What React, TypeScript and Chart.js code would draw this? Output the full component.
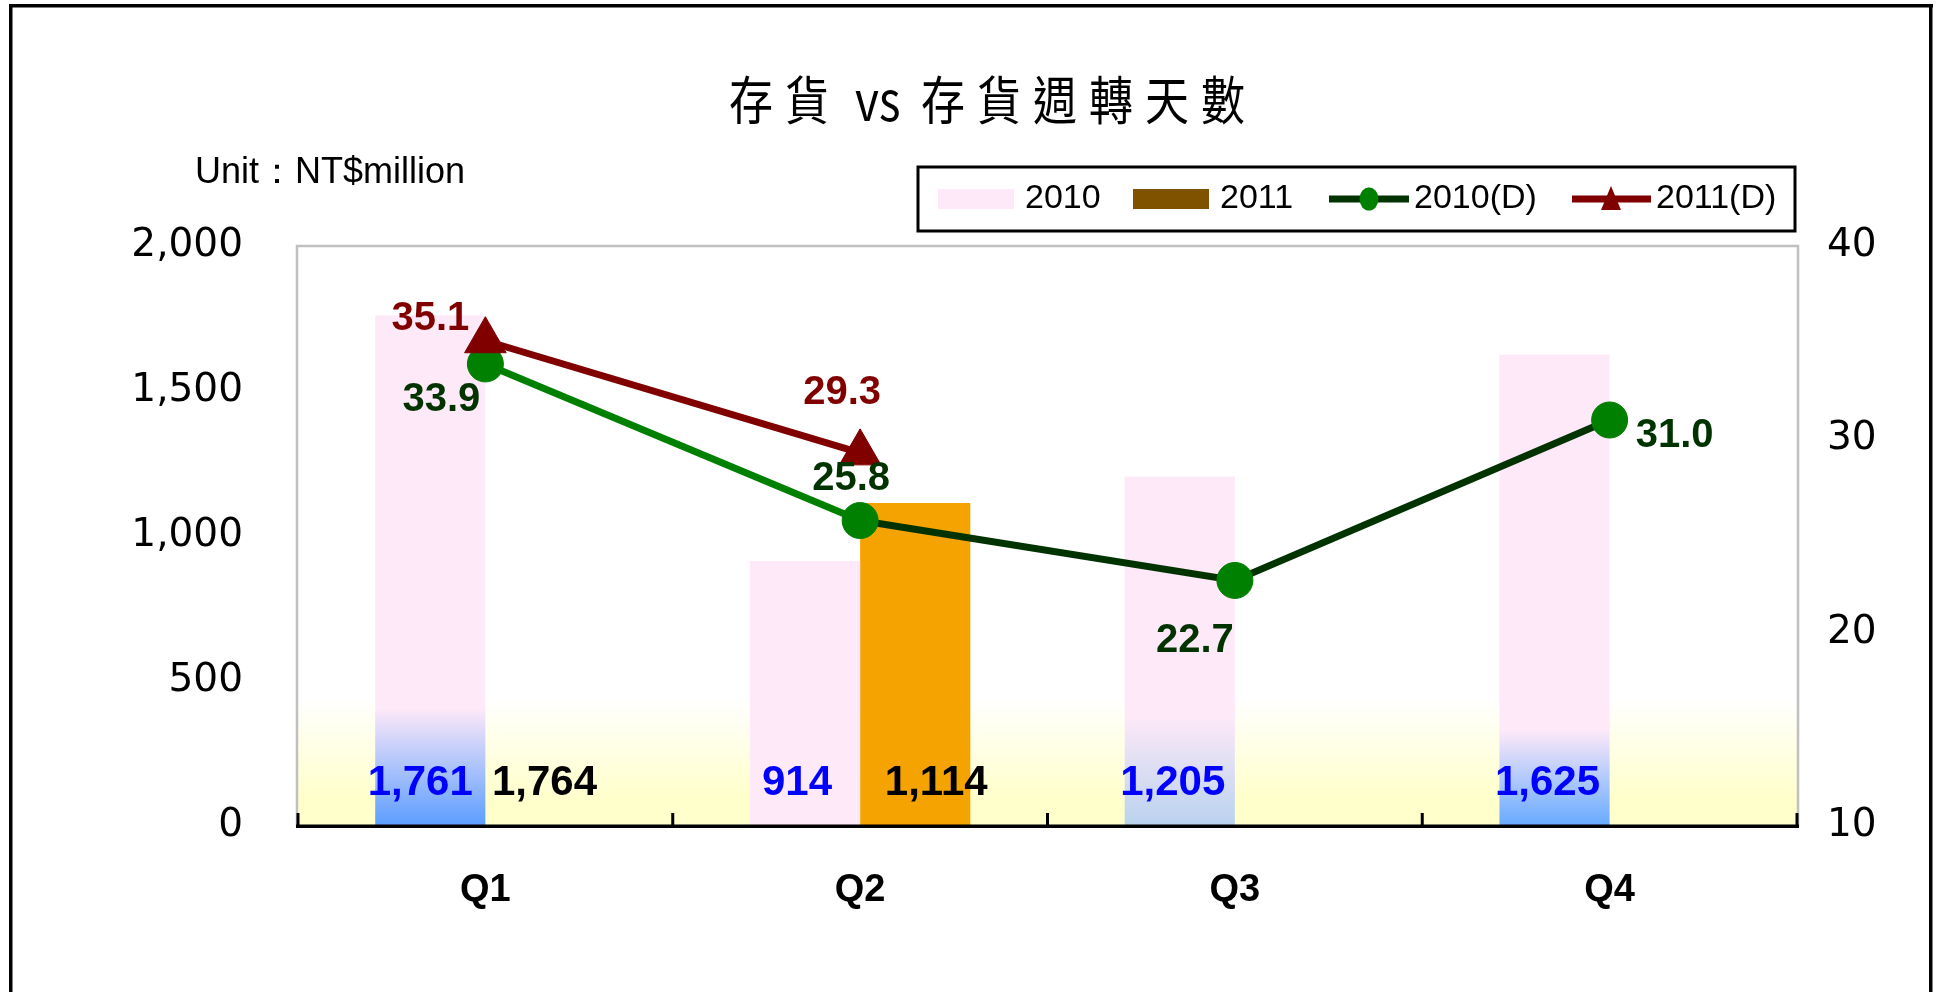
import React, { useEffect, useRef } from 'react';
import { Chart, registerables } from 'chart.js';

Chart.register(...registerables);

// ---- data ----
const categories = ['Q1', 'Q2', 'Q3', 'Q4'];
const inventory2010 = [1761, 914, 1205, 1625];
const inventory2011 = [1764, 1114, null, null];
const days2010 = [33.9, 25.8, 22.7, 31.0];
const days2011 = [35.1, 29.3, null, null];
const leftTicks = [0, 500, 1000, 1500, 2000];
const rightTicks = [10, 20, 30, 40];
const seriesNames = ['2010', '2011', '2010(D)', '2011(D)'];
const titleText = '存貨 vs 存貨週轉天數';
const unitText = 'Unit：NT$million';

// ---- styles ----
const FONT = "'Liberation Sans', Arial, sans-serif";
const AXISFONT = "'DejaVu Sans', 'Liberation Sans', sans-serif";
const CJK = "'Noto Sans CJK TC', 'Noto Sans CJK SC', sans-serif";
const PINK = '#FEE9F8';
const ORANGE = '#F5A300';
const BROWN = '#7F5200';
const GREEN = '#008000';
const DKGREEN = '#003300';
const RED = '#800000';
const BLUE = '#0000FF';
const bar2010Base = ['#5B9DFF', null, '#B9D2EE', '#66AAFF'];
const bar2010Fade = [118, 0, 110, 96];
const bar2011Colors = ['rgba(0,0,0,0)', ORANGE, ORANGE, ORANGE];
const barLabelDx = [[-10, -8, -7, -7], [4, 21, 0, 0]];
const lineLabelOffsets: Record<number, number[][]> = {
  2: [[-44, 36], [-9, -42], [-40, 61], [65, 16]],
  3: [[-55, -22], [-18, -60]],
};
const titlePartX = [729, 855, 921];

const decorPlugin = {
  id: 'decor',
  beforeDraw(chart: any) {
    const { ctx, chartArea: a, width, height } = chart;
    ctx.save();
    ctx.fillStyle = '#ffffff';
    ctx.fillRect(0, 0, width, height);
    const g = ctx.createLinearGradient(0, a.top, 0, a.bottom);
    g.addColorStop(0, '#ffffff');
    g.addColorStop(0.78, '#ffffff');
    g.addColorStop(0.95, '#FFFFCC');
    g.addColorStop(1, '#FFFFCC');
    ctx.fillStyle = g;
    ctx.fillRect(a.left, a.top, a.width, a.height);
    ctx.strokeStyle = '#C0C0C0';
    ctx.lineWidth = 2.5;
    ctx.beginPath();
    ctx.moveTo(a.left - 1, a.bottom);
    ctx.lineTo(a.left - 1, a.top);
    ctx.lineTo(a.right + 1, a.top);
    ctx.lineTo(a.right + 1, a.bottom);
    ctx.stroke();
    ctx.restore();
  },
  afterDatasetsDraw(chart: any) {
    const { ctx, chartArea: a } = chart;
    ctx.save();
    ctx.fillStyle = '#000';
    ctx.fillRect(a.left - 2, a.bottom - 1.5, a.width + 4, 3.5);
    const n = categories.length;
    for (let i = 0; i <= n; i++) {
      const x = a.left + (i * a.width) / n;
      ctx.fillRect(x - 1.5, a.bottom - 13, 3, 13);
    }
    ctx.font = `bold 42px ${FONT}`;
    ctx.textAlign = 'center';
    ctx.textBaseline = 'middle';
    [0, 1].forEach((di) => {
      const meta = chart.getDatasetMeta(di);
      const vals = chart.data.datasets[di].data;
      meta.data.forEach((el: any, i: number) => {
        const v = vals[i];
        if (v == null) return;
        ctx.fillStyle = di === 0 ? BLUE : '#000';
        ctx.fillText(Number(v).toLocaleString('en-US'), el.x + barLabelDx[di][i], a.bottom - 43);
      });
    });
    ctx.font = `bold 40px ${FONT}`;
    [2, 3].forEach((di) => {
      const meta = chart.getDatasetMeta(di);
      const vals = chart.data.datasets[di].data;
      meta.data.forEach((el: any, i: number) => {
        const v = vals[i];
        if (v == null) return;
        const off = lineLabelOffsets[di][i];
        ctx.fillStyle = di === 2 ? DKGREEN : RED;
        ctx.fillText(Number(v).toFixed(1), el.x + off[0], el.y + off[1]);
      });
    });
    ctx.restore();
  },
  afterDraw(chart: any) {
    const { ctx, chartArea: a } = chart;
    ctx.save();
    // title (tall glyphs)
    ctx.save();
    ctx.translate(0, 100);
    ctx.scale(1, 1.2);
    ctx.fillStyle = '#000';
    ctx.textAlign = 'left';
    ctx.textBaseline = 'middle';
    titleText.split(' ').forEach((part, i) => {
      const isLatin = /^[a-z]+$/i.test(part);
      ctx.font = `${isLatin ? 46 : 44}px ${CJK}`;
      (ctx as any).letterSpacing = isLatin ? '0px' : '12px';
      ctx.fillText(part, titlePartX[i], 0);
    });
    (ctx as any).letterSpacing = '0px';
    ctx.restore();
    // unit
    ctx.fillStyle = '#000';
    ctx.textBaseline = 'middle';
    ctx.font = `36px ${FONT}`;
    ctx.textAlign = 'left';
    ctx.fillText(unitText, 195, 173);
    // legend box
    const lx = 918, ly = 167, lw = a.right - 2 - lx, lh = 64;
    ctx.strokeStyle = '#000';
    ctx.lineWidth = 3;
    ctx.strokeRect(lx, ly, lw, lh);
    const cy = ly + lh / 2;
    ctx.font = `34px ${FONT}`;
    ctx.fillStyle = PINK;
    ctx.fillRect(938, cy - 10, 76, 20);
    ctx.fillStyle = '#000';
    ctx.fillText(seriesNames[0], 1025, cy);
    ctx.fillStyle = BROWN;
    ctx.fillRect(1133, cy - 10, 76, 20);
    ctx.fillStyle = '#000';
    ctx.fillText(seriesNames[1], 1220, cy);
    ctx.fillStyle = DKGREEN;
    ctx.fillRect(1329, cy - 3.5, 80, 7);
    ctx.fillStyle = GREEN;
    ctx.beginPath();
    ctx.ellipse(1369, cy, 9.5, 11.5, 0, 0, Math.PI * 2);
    ctx.fill();
    ctx.fillStyle = '#000';
    ctx.fillText(seriesNames[2], 1414, cy);
    ctx.fillStyle = RED;
    ctx.fillRect(1572, cy - 3.5, 79, 7);
    ctx.beginPath();
    ctx.moveTo(1611, cy - 13);
    ctx.lineTo(1621, cy + 11);
    ctx.lineTo(1601, cy + 11);
    ctx.closePath();
    ctx.fill();
    ctx.fillStyle = '#000';
    ctx.fillText(seriesNames[3], 1656, cy);
    // outer frame
    ctx.fillStyle = '#000';
    ctx.fillRect(9, 4, 1924, 3.5);
    ctx.fillRect(9, 4, 3.5, 1000);
    ctx.fillRect(1929, 4, 3.5, 1000);
    ctx.restore();
  },
};

export default function App() {
  const ref = useRef<HTMLCanvasElement>(null);
  useEffect(() => {
    const chart = new Chart(ref.current as HTMLCanvasElement, {
      type: 'bar',
      data: {
        labels: categories,
        datasets: [
          {
            type: 'bar',
            label: seriesNames[0],
            data: inventory2010,
            yAxisID: 'y',
            order: 2,
            backgroundColor: (c: any) => {
              const chart = c.chart;
              const area = chart.chartArea;
              if (!area || c.type !== 'data') return PINK;
              const base = bar2010Base[c.dataIndex];
              if (!base) return PINK;
              const g = chart.ctx.createLinearGradient(0, area.bottom, 0, area.bottom - bar2010Fade[c.dataIndex]);
              g.addColorStop(0, base);
              g.addColorStop(1, PINK);
              return g;
            },
            borderWidth: 0,
            categoryPercentage: 0.588,
            barPercentage: 1,
          } as any,
          {
            type: 'bar',
            label: seriesNames[1],
            data: inventory2011,
            yAxisID: 'y',
            order: 2,
            backgroundColor: bar2011Colors,
            borderWidth: 0,
            categoryPercentage: 0.588,
            barPercentage: 1,
          } as any,
          {
            type: 'line',
            label: seriesNames[2],
            data: days2010,
            yAxisID: 'y1',
            order: 1,
            borderColor: DKGREEN,
            borderWidth: 7,
            segment: {
              borderColor: (s: any) => (s.p0DataIndex === 0 ? GREEN : DKGREEN),
            },
            pointStyle: 'circle',
            pointRadius: 18,
            pointBackgroundColor: GREEN,
            pointBorderColor: GREEN,
            pointBorderWidth: 1,
            tension: 0,
          } as any,
          {
            type: 'line',
            label: seriesNames[3],
            data: days2011,
            yAxisID: 'y1',
            order: 0,
            borderColor: RED,
            borderWidth: 7,
            pointStyle: 'triangle',
            pointRadius: 24,
            pointBackgroundColor: RED,
            pointBorderColor: RED,
            pointBorderWidth: 1,
            tension: 0,
            spanGaps: false,
          } as any,
        ],
      },
      options: {
        animation: false,
        responsive: false,
        devicePixelRatio: 1,
        layout: { padding: { top: 246, left: 0, right: 0, bottom: 0 } },
        plugins: {
          legend: { display: false },
          title: { display: false },
          tooltip: { enabled: false },
        },
        scales: {
          x: {
            grid: { display: false, drawTicks: false },
            border: { display: false },
            ticks: { color: '#000', padding: 42, font: { family: FONT, size: 38, weight: 'bold' } },
            afterFit: (s: any) => { s.height = 166; },
          },
          y: {
            position: 'left',
            min: leftTicks[0],
            max: leftTicks[leftTicks.length - 1],
            grid: { display: false, drawTicks: false },
            border: { display: false },
            afterBuildTicks: (s: any) => { s.ticks = leftTicks.map((v) => ({ value: v })); },
            ticks: {
              color: '#000',
              padding: 55,
              font: { family: AXISFONT, size: 39 },
              callback: (v: any) => Number(v).toLocaleString('en-US'),
            },
            afterFit: (s: any) => { s.width = 298; },
          },
          y1: {
            position: 'right',
            min: rightTicks[0],
            max: rightTicks[rightTicks.length - 1],
            grid: { display: false, drawTicks: false },
            border: { display: false },
            afterBuildTicks: (s: any) => { s.ticks = rightTicks.map((v) => ({ value: v })); },
            ticks: { color: '#000', padding: 30, font: { family: AXISFONT, size: 39 } },
            afterFit: (s: any) => { s.width = 141; },
          },
        },
      } as any,
      plugins: [decorPlugin],
    });
    return () => chart.destroy();
  }, []);
  return (
    <div style={{ position: 'absolute', left: 0, top: 0, width: 1938, height: 992 }}>
      <canvas ref={ref} width={1938} height={992} style={{ display: 'block', width: 1938, height: 992 }} />
    </div>
  );
}
